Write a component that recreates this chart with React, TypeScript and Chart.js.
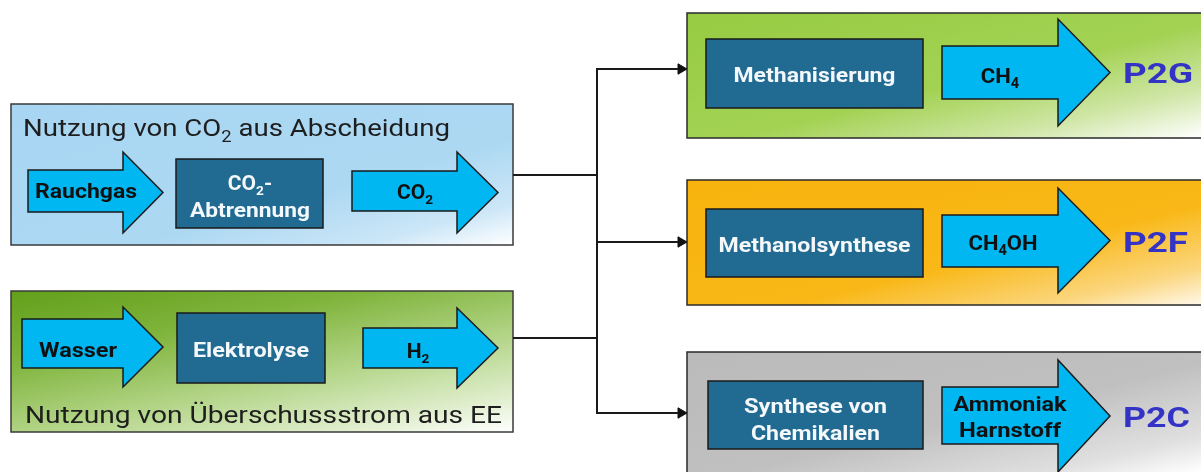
import React, { useEffect, useRef } from "react";
import { Chart, registerables } from "chart.js";

Chart.register(...registerables);

// ---------------- data (texts of the flow diagram) ----------------
const sourceTitles = ["Nutzung von CO_2 aus Abscheidung", "Nutzung von Überschussstrom aus EE"];
const sourceInputs = ["Rauchgas", "Wasser"];
const sourceProcesses = [["CO_2-", "Abtrennung"], ["Elektrolyse"]];
const sourceOutputs = ["CO_2", "H_2"];
const pathProcesses = [["Methanisierung"], ["Methanolsynthese"], ["Synthese von", "Chemikalien"]];
const pathProducts = [["CH_4"], ["CH_4OH"], ["Ammoniak", "Harnstoff"]];
const pathCodes = ["P2G", "P2F", "P2C"];

// ---------------- layout (in axis units: x 0..1201, y 0..472 downward) ----------------
const AX_W = 1201;
const AX_H = 472;
const FONT = "Roboto, 'DejaVu Sans', sans-serif";

const sourceLayout = [
  {
    box: [11, 104, 513, 245],
    fill: { fx: 0.5, stops: [[0, "#a8d6f2"], [0.62, "#acd8f2"], [0.85, "#cbe6f7"], [1, "#ffffff"]] },
    title: { x: 23, y: 136, w: 427 },
    inArrow: { x0: 28, x1: 163, hx: 123, st: 170, sb: 212, ht: 152, hb: 233 },
    inText: { cx: 86, y: 198, w: 102 },
    proc: [176, 159, 323, 228],
    procText: { cx: 250, ys: [190, 217], ws: [0, 120] },
    outArrow: { x0: 352, x1: 498, hx: 457, st: 171, sb: 211, ht: 152, hb: 233 },
    outText: { cx: 415, y: 199 },
    joinY: 175,
  },
  {
    box: [11, 291, 513, 432],
    fill: { fx: 0.42, stops: [[0, "#62a01a"], [0.3, "#80b43c"], [0.6, "#b3d588"], [0.85, "#e0eecd"], [1, "#ffffff"]] },
    title: { x: 25, y: 423, w: 477 },
    inArrow: { x0: 22, x1: 163, hx: 123, st: 319, sb: 368, ht: 307, hb: 387 },
    inText: { cx: 78, y: 357, w: 78 },
    proc: [177, 313, 325, 383],
    procText: { cx: 251, ys: [357], ws: [116] },
    outArrow: { x0: 363, x1: 498, hx: 457, st: 328, sb: 368, ht: 308, hb: 388 },
    outText: { cx: 418, y: 358 },
    joinY: 338,
  },
];

const pathLayout = [
  {
    box: [687, 13, 1230, 138],
    fill: { fx: 0.5, stops: [[0, "#97cb43"], [0.55, "#a3d253"], [0.8, "#cfe6a6"], [1, "#ffffff"]] },
    proc: [706, 39, 923, 108],
    procText: { ys: [82], ws: [162] },
    arrow: { x0: 942, x1: 1110, hx: 1058, st: 46, sb: 99, ht: 19, hb: 126 },
    prodText: { cx: 1000, ys: [83], ws: [0] },
    code: { x: 1123, y: 83, w: 70 },
    branchY: 69,
  },
  {
    box: [687, 180, 1230, 305],
    fill: { fx: 0.5, stops: [[0, "#f8b30e"], [0.6, "#f9b817"], [0.85, "#fbd67e"], [1, "#fff8ea"]] },
    proc: [706, 209, 923, 277],
    procText: { ys: [252], ws: [192] },
    arrow: { x0: 942, x1: 1110, hx: 1058, st: 215, sb: 267, ht: 188, hb: 293 },
    prodText: { cx: 1003, ys: [250], ws: [69] },
    code: { x: 1123, y: 252, w: 65 },
    branchY: 242,
  },
  {
    box: [687, 352, 1230, 500],
    fill: { fx: 0.5, stops: [[0, "#bababa"], [0.55, "#c0c0c0"], [0.85, "#e0e0e0"], [1, "#ffffff"]] },
    proc: [708, 381, 923, 449],
    procText: { ys: [413, 440], ws: [143, 129] },
    arrow: { x0: 942, x1: 1110, hx: 1058, st: 387, sb: 444, ht: 360, hb: 472 },
    prodText: { cx: 1010, ys: [411, 437], ws: [113, 102] },
    code: { x: 1123, y: 427, w: 67 },
    branchY: 413,
  },
];

const TRUNK_X = 597;
const ARROW_TIP_X = 687;

// ---------------- drawing helpers ----------------
function parseRich(s: string) {
  const parts: { t: string; sub: boolean }[] = [];
  const re = /_(\d)/g;
  let last = 0;
  let m: RegExpExecArray | null;
  while ((m = re.exec(s))) {
    if (m.index > last) parts.push({ t: s.slice(last, m.index), sub: false });
    parts.push({ t: m[1], sub: true });
    last = re.lastIndex;
  }
  if (last < s.length) parts.push({ t: s.slice(last), sub: false });
  return parts;
}

function drawRich(
  ctx: CanvasRenderingContext2D,
  s: string,
  x: number,
  y: number,
  o: { size: number; weight: number; color: string; align?: string; width?: number; sx?: number }
) {
  const parts = parseRich(s);
  const main = `${o.weight} ${o.size}px ${FONT}`;
  const sub = `${o.weight} ${Math.round(o.size * 0.65)}px ${FONT}`;
  let nat = 0;
  for (const p of parts) {
    ctx.font = p.sub ? sub : main;
    nat += ctx.measureText(p.t).width;
  }
  const sx = o.width ? o.width / nat : o.sx || 1;
  const total = nat * sx;
  const left = o.align === "center" ? x - total / 2 : x;
  ctx.save();
  ctx.translate(left, y);
  ctx.scale(sx, 1);
  ctx.fillStyle = o.color;
  ctx.textAlign = "left";
  ctx.textBaseline = "alphabetic";
  let cx = 0;
  for (const p of parts) {
    ctx.font = p.sub ? sub : main;
    ctx.fillText(p.t, cx, p.sub ? o.size * 0.24 : 0);
    cx += ctx.measureText(p.t).width;
  }
  ctx.restore();
}

function diagGradient(ctx: CanvasRenderingContext2D, x0: number, y0: number, w: number, h: number, fx: number, stops: any[]) {
  const ux = fx / w;
  const uy = (1 - fx) / h;
  const n = ux * ux + uy * uy;
  const g = ctx.createLinearGradient(x0, y0, x0 + ux / n, y0 + uy / n);
  for (const [t, c] of stops) g.addColorStop(t, c);
  return g;
}

const diagramPlugin = {
  id: "flowDiagram",
  beforeDatasetsDraw(chart: any) {
    const ctx: CanvasRenderingContext2D = chart.ctx;
    const xs = chart.scales.x;
    const ys = chart.scales.y;
    const X = (v: number) => xs.getPixelForValue(v);
    const Y = (v: number) => ys.getPixelForValue(v);
    const area = chart.chartArea;

    const drawBox = (b: number[], fill: any, stroke: string, lw: number) => {
      const x0 = X(b[0]), y0 = Y(b[1]), x1 = X(b[2]), y1 = Y(b[3]);
      const vw = Math.min(x1, area.right) - x0;
      const vh = Math.min(y1, area.bottom) - y0;
      ctx.save();
      ctx.fillStyle = typeof fill === "string" ? fill : diagGradient(ctx, x0, y0, vw, vh, fill.fx, fill.stops);
      ctx.fillRect(x0, y0, x1 - x0, y1 - y0);
      ctx.strokeStyle = stroke;
      ctx.lineWidth = lw;
      ctx.strokeRect(x0, y0, x1 - x0, y1 - y0);
      ctx.restore();
    };

    const drawArrow = (a: any) => {
      const tipY = (a.ht + a.hb) / 2;
      ctx.save();
      ctx.beginPath();
      ctx.moveTo(X(a.x0), Y(a.st));
      ctx.lineTo(X(a.hx), Y(a.st));
      ctx.lineTo(X(a.hx), Y(a.ht));
      ctx.lineTo(X(a.x1), Y(tipY));
      ctx.lineTo(X(a.hx), Y(a.hb));
      ctx.lineTo(X(a.hx), Y(a.sb));
      ctx.lineTo(X(a.x0), Y(a.sb));
      ctx.closePath();
      ctx.fillStyle = "#00b7f1";
      ctx.fill();
      ctx.strokeStyle = "#1a1a1a";
      ctx.lineWidth = 1.5;
      ctx.lineJoin = "miter";
      ctx.stroke();
      ctx.restore();
    };

    // left source panels
    sourceLayout.forEach((L, i) => {
      drawBox(L.box, L.fill, "#3a3a3a", 1.5);
      drawRich(ctx, sourceTitles[i], X(L.title.x), Y(L.title.y), { size: 24, weight: 400, color: "#1e1e1e", width: L.title.w });
      drawArrow(L.inArrow);
      drawRich(ctx, sourceInputs[i], X(L.inText.cx), Y(L.inText.y), { size: 20, weight: 700, color: "#111", align: "center", width: L.inText.w });
      drawBox(L.proc, "#216b93", "#1a1a1a", 1.5);
      sourceProcesses[i].forEach((t, k) => {
        const w = L.procText.ws[k];
        drawRich(ctx, t, X(L.procText.cx), Y(L.procText.ys[k]), { size: 20, weight: 700, color: "#f4f8fa", align: "center", width: w || undefined, sx: 1.05 });
      });
      drawArrow(L.outArrow);
      drawRich(ctx, sourceOutputs[i], X(L.outText.cx), Y(L.outText.y), { size: 20, weight: 700, color: "#111", align: "center", sx: 1.05 });
    });

    // right pathway panels
    pathLayout.forEach((P, i) => {
      drawBox(P.box, P.fill, "#2a2a2a", 1.5);
      drawBox(P.proc, "#216b93", "#1a1a1a", 1.5);
      const pcx = (P.proc[0] + P.proc[2]) / 2;
      pathProcesses[i].forEach((t, k) => {
        drawRich(ctx, t, X(pcx), Y(P.procText.ys[k]), { size: 21, weight: 700, color: "#f4f8fa", align: "center", width: P.procText.ws[k] });
      });
      drawArrow(P.arrow);
      pathProducts[i].forEach((t, k) => {
        const w = P.prodText.ws[k];
        drawRich(ctx, t, X(P.prodText.cx), Y(P.prodText.ys[k]), { size: 21, weight: 700, color: "#111", align: "center", width: w || undefined, sx: 1.05 });
      });
      drawRich(ctx, pathCodes[i], X(P.code.x), Y(P.code.y), { size: 28, weight: 700, color: "#3333c6", width: P.code.w });
    });
  },
};

// connector segments (lines) and arrow heads built from the layout
function buildDatasets() {
  const line = (pts: { x: number; y: number }[]) => ({
    type: "scatter" as const,
    data: pts,
    showLine: true,
    borderColor: "#1a1a1a",
    borderWidth: 2,
    pointRadius: 0,
    fill: false,
  });
  const ds: any[] = [];
  sourceLayout.forEach((L) => ds.push(line([{ x: L.box[2], y: L.joinY }, { x: TRUNK_X, y: L.joinY }])));
  const bys = pathLayout.map((p) => p.branchY);
  ds.push(line([{ x: TRUNK_X, y: Math.min(...bys) - 1 }, { x: TRUNK_X, y: Math.max(...bys) + 1 }]));
  pathLayout.forEach((P) => ds.push(line([{ x: TRUNK_X, y: P.branchY }, { x: ARROW_TIP_X - 9, y: P.branchY }])));
  ds.push({
    type: "scatter" as const,
    data: pathLayout.map((P) => ({ x: ARROW_TIP_X - 6, y: P.branchY })),
    showLine: false,
    pointStyle: "triangle",
    rotation: 90,
    pointRadius: 6,
    backgroundColor: "#111",
    borderColor: "#111",
    borderWidth: 1,
  });
  return ds;
}

export default function App() {
  const ref = useRef<HTMLCanvasElement | null>(null);
  useEffect(() => {
    if (!ref.current) return;
    const chart = new Chart(ref.current, {
      type: "scatter",
      data: { datasets: buildDatasets() },
      options: {
        animation: false,
        responsive: true,
        maintainAspectRatio: false,
        events: [],
        layout: { padding: 0, autoPadding: false },
        plugins: { legend: { display: false }, tooltip: { enabled: false }, title: { display: false } },
        scales: {
          x: { type: "linear", min: 0, max: AX_W, display: false },
          y: { type: "linear", min: 0, max: AX_H, reverse: true, display: false },
        },
      },
      plugins: [diagramPlugin],
    } as any);
    return () => chart.destroy();
  }, []);
  return (
    <div style={{ position: "absolute", left: 0, top: 0, width: 1201, height: 472, background: "#ffffff" }}>
      <canvas ref={ref} />
    </div>
  );
}
